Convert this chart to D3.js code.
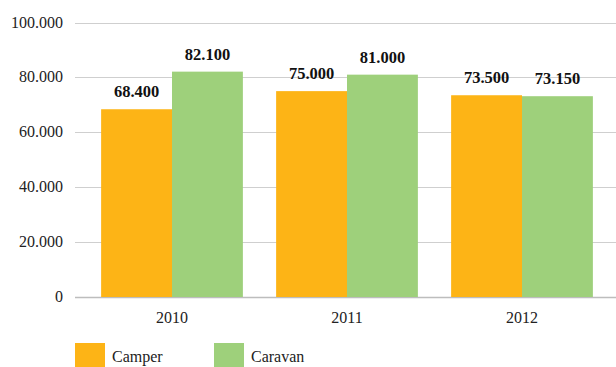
<!DOCTYPE html>
<html>
<head>
<meta charset="utf-8">
<script src="https://cdn.jsdelivr.net/npm/d3@7"></script>
<style>
body{margin:0;background:#fff;}
text{font-family:"Liberation Serif","DejaVu Serif",serif;}
</style>
</head>
<body>
<div id="chart"></div>
<script>
var years = ["2010", "2011", "2012"];
var series = ["Camper", "Caravan"];
var camper = [68400, 75000, 73500];
var caravan = [82100, 81000, 73150];
var yTicks = [0, 20000, 40000, 60000, 80000, 100000];
var colors = ["#FDB416", "#9ED07B"];

var w = 616, h = 367;
var svg = d3.select("#chart").append("svg").attr("width", w).attr("height", h);

var fmt = function(v){ return d3.format(",")(v).replace(/,/g, "."); };

var y = d3.scaleLinear().domain([0, 100000]).range([297, 22.5]);
var x0 = d3.scaleBand().domain(years).range([84.5, 609.5]).paddingInner(0.19).paddingOuter(0.095);
var x1 = d3.scaleBand().domain(series).range([0, x0.bandwidth()]);

// grid
svg.append("g").selectAll("line").data(yTicks).enter().append("line")
    .attr("x1", 75).attr("x2", w)
    .attr("y1", function(d){ return Math.round(y(d)) + 0.5; })
    .attr("y2", function(d){ return Math.round(y(d)) + 0.5; })
    .attr("stroke", function(d){ return d === 0 ? "#bdbdbd" : "#cfcfcf"; })
    .attr("stroke-width", function(d){ return d === 0 ? 1.5 : 1; });

svg.append("g").selectAll("text").data(yTicks).enter().append("text")
    .attr("x", 63).attr("y", function(d){ return y(d) + 5; })
    .attr("text-anchor", "end").attr("font-size", 16).attr("fill", "#222")
    .text(fmt);

var data = years.map(function(yr, i){ return {year: yr, vals: [camper[i], caravan[i]]}; });

var groups = svg.selectAll("g.grp").data(data).enter().append("g")
    .attr("class", "grp")
    .attr("transform", function(d){ return "translate(" + x0(d.year) + ",0)"; });

groups.selectAll("rect").data(function(d){ return d.vals; }).enter().append("rect")
    .attr("x", function(d, i){ return x1(series[i]); })
    .attr("width", x1.bandwidth())
    .attr("y", function(d){ return y(d); })
    .attr("height", function(d){ return y(0) - y(d); })
    .attr("fill", function(d, i){ return colors[i]; });

groups.selectAll("text").data(function(d){ return d.vals; }).enter().append("text")
    .attr("x", function(d, i){ return x1(series[i]) + x1.bandwidth() / 2; })
    .attr("y", function(d){ return y(d) - 12; })
    .attr("text-anchor", "middle").attr("font-size", 16.5).attr("font-weight", "bold").attr("fill", "#111")
    .text(fmt);

// x labels
svg.append("g").selectAll("text").data(years).enter().append("text")
    .attr("x", function(d){ return x0(d) + x0.bandwidth() / 2; })
    .attr("y", 323)
    .attr("text-anchor", "middle").attr("font-size", 16).attr("fill", "#222")
    .text(function(d){ return d; });

// legend
var leg = svg.append("g").selectAll("g").data(series).enter().append("g")
    .attr("transform", function(d, i){ return "translate(" + (75 + i * 139) + ",343)"; });
leg.append("rect").attr("width", 30).attr("height", 24).attr("fill", function(d, i){ return colors[i]; });
leg.append("text").attr("x", 37).attr("y", 19).attr("font-size", 16).attr("fill", "#222")
    .text(function(d){ return d; });
</script>
</body>
</html>
